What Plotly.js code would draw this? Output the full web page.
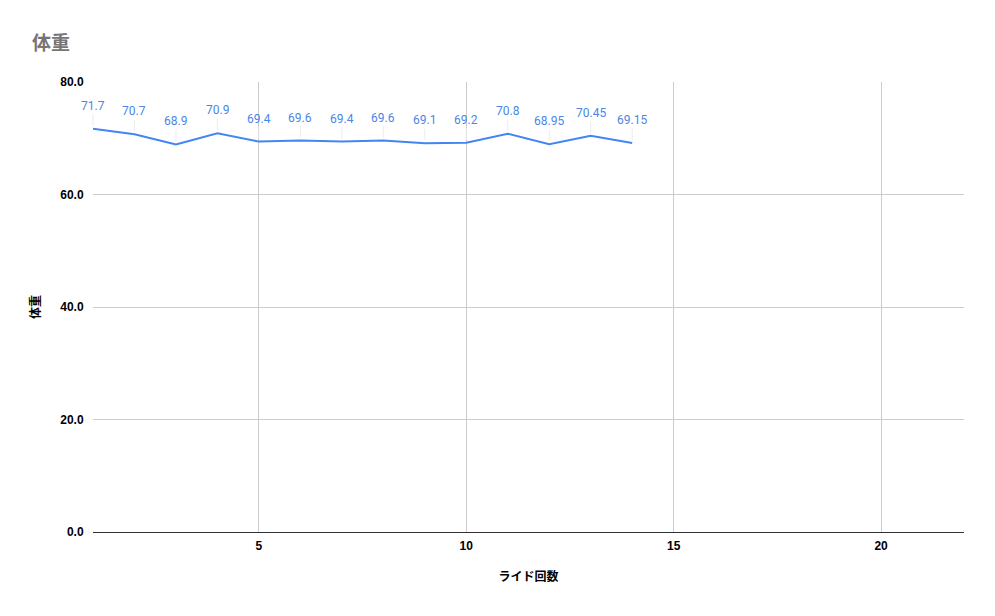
<!DOCTYPE html>
<html>
<head>
<meta charset="utf-8">
<script src="https://cdn.plot.ly/plotly-3.0.1.min.js"></script>
<style>html,body{margin:0;padding:0;background:#fff;}#chart{width:995px;height:616px;}</style>
</head>
<body>
<div id="chart"></div>
<script>
const rides = [1,2,3,4,5,6,7,8,9,10,11,12,13,14];
const weights = [71.7,70.7,68.9,70.9,69.4,69.6,69.4,69.6,69.1,69.2,70.8,68.95,70.45,69.15];
const labels = ["71.7","70.7","68.9","70.9","69.4","69.6","69.4","69.6","69.1","69.2","70.8","68.95","70.45","69.15"];
const yTicks = [0,20,40,60,80];
const yTickText = ["0.0","20.0","40.0","60.0","80.0"];

const trace = {
  x: rides, y: weights, type: 'scatter', mode: 'lines',
  line: {color: '#4285f4', width: 2}, hoverinfo: 'skip'
};
const annotations = rides.map((r, i) => ({
  x: r, y: weights[i], xref: 'x', yref: 'y', text: labels[i],
  showarrow: true, arrowhead: 0, arrowwidth: 1, arrowcolor: '#ececec',
  ax: 0, ay: -23, standoff: 3,
  font: {family: 'Roboto, Arial, sans-serif', size: 12, color: '#4a86e8'}
}));

const tickFont = {family: 'Liberation Sans, Arial, sans-serif', size: 12, color: '#000', weight: 'bold'};
const layout = {
  width: 995, height: 616,
  margin: {l: 93, r: 31, t: 82, b: 84},
  paper_bgcolor: '#fff', plot_bgcolor: '#fff',
  showlegend: false,
  title: {text: '<b>体重</b>', x: 32/995, xanchor: 'left', y: 1 - 43/616, yanchor: 'middle',
    font: {family: 'Noto Sans CJK JP, Roboto, sans-serif', size: 19, color: '#757575'}},
  xaxis: {range: [1, 22], tick0: 0, dtick: 5, showgrid: true, gridcolor: '#cccccc', gridwidth: 1,
    zeroline: false, showline: false, ticks: 'outside', ticklen: 3, tickcolor: 'rgba(0,0,0,0)',
    tickfont: tickFont,
    title: {text: '<b>ライド回数</b>', standoff: 20,
      font: {family: 'Noto Sans CJK JP, sans-serif', size: 12, color: '#000'}}},
  yaxis: {range: [0, 80], tickvals: yTicks, ticktext: yTickText, showgrid: true,
    gridcolor: '#cccccc', gridwidth: 1, zeroline: true, zerolinecolor: '#333', zerolinewidth: 1,
    showline: false, ticks: 'outside', ticklen: 6, tickcolor: 'rgba(0,0,0,0)',
    tickfont: tickFont,
    title: {text: '<b>体重</b>', standoff: 17,
      font: {family: 'Noto Sans CJK JP, sans-serif', size: 12, color: '#000'}}},
  annotations: annotations
};
Plotly.newPlot('chart', [trace], layout, {displayModeBar: false, staticPlot: true});
</script>
</body>
</html>
